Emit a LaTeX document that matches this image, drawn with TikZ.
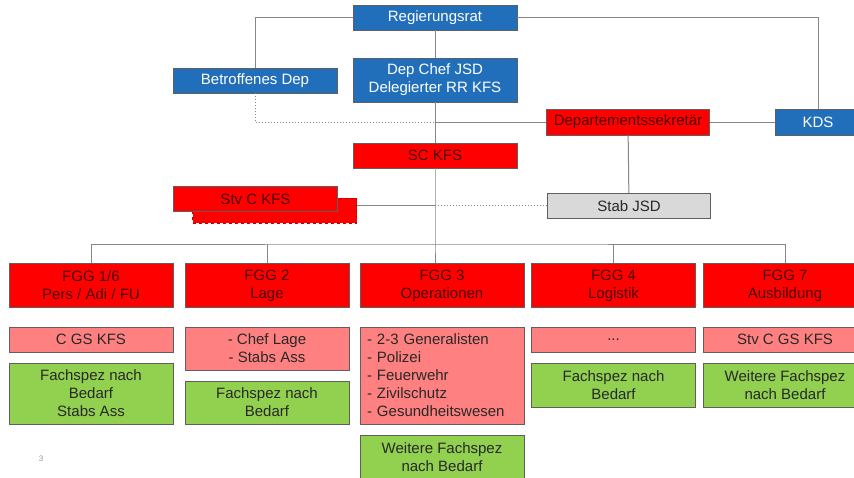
\documentclass[tikz,border=0pt]{standalone}
\usepackage{fontspec}
\setmainfont{Liberation Sans}

\definecolor{rrblue}{RGB}{33,111,186}
\definecolor{kfsred}{RGB}{255,0,0}
\definecolor{kfspink}{RGB}{255,128,128}
\definecolor{kfsgreen}{RGB}{146,208,80}
\definecolor{stabgray}{RGB}{217,217,217}
\definecolor{linegray}{RGB}{135,135,135}
\definecolor{boxline}{RGB}{95,95,95}
\definecolor{redtext}{RGB}{75,0,0}
\definecolor{darktext}{RGB}{40,40,40}

\tikzset{
  orgbox/.style={draw=boxline, line width=0.7pt, inner sep=0pt, minimum width=164,
    minimum height=25, align=center, font=\fontsize{15}{18}\selectfont},
  bluebox/.style={orgbox, fill=rrblue, text=white},
  redbox/.style={orgbox, fill=kfsred, text=redtext},
  pinkbox/.style={orgbox, fill=kfspink, text=darktext},
  greenbox/.style={orgbox, fill=kfsgreen, text=darktext},
  graybox/.style={orgbox, fill=stabgray, text=darktext},
  link/.style={draw=linegray, line width=1pt},
  hint/.style={link, dotted}
}

\begin{document}
\begin{tikzpicture}[x=1pt,y=-1pt]
    \useasboundingbox (0,0) rectangle (854,477);
    \clip (0,0) rectangle (854,477);
    \fill[white] (0,0) rectangle (854,477);

    % top level
    \node[bluebox] (reg) at (435,17.5) {Regierungsrat};
    \node[bluebox] (betr) at (255,80.5) {Betroffenes Dep};
    \node[bluebox,minimum height=44] (chef) at (435,80) {Dep Chef JSD\\Delegierter RR KFS};
    \node[redbox,minimum width=163,minimum height=26] (depsek) at (628,122) {Departementssekret\"ar};
    \node[bluebox,minimum width=86,minimum height=26] (kds) at (818,122) {KDS};
    \node[redbox] (sc) at (435,155.5) {SC KFS};
    \node[redbox,dashed,draw=kfsred!75!black] (stvshadow) at (274.5,210.5) {};
    \node[redbox] (stv) at (255.5,199) {Stv C KFS};
    \node[graybox,minimum width=163] (stab) at (629,206) {Stab JSD};

    % FGG row
    \node[redbox,minimum height=44] (fgg1) at (91,285.5) {FGG 1/6\\Pers / Adi / FU};
    \node[redbox,minimum height=44] (fgg2) at (267,285.5) {FGG 2\\Lage};
    \node[redbox,minimum height=44] (fgg3) at (442,285.5) {FGG 3\\Operationen};
    \node[redbox,minimum height=44] (fgg4) at (613.5,285.5) {FGG 4\\Logistik};
    \node[redbox,minimum height=44] (fgg7) at (785,285.5) {FGG 7\\Ausbildung};

    \node[pinkbox] (pink1) at (91,339.5) {C GS KFS};
    \node[pinkbox,minimum height=43] (pink2) at (267,348.5) {- Chef Lage\\- Stabs Ass};
    \node[pinkbox,minimum height=97,text width=150,align=left] (pink3) at (442,375.5)
      {- 2-3 Generalisten\\- Polizei\\- Feuerwehr\\- Zivilschutz\\- Gesundheitswesen};
    \node[pinkbox] (pink4) at (613.5,339.5) {...};
    \node[pinkbox] (pink7) at (785,339.5) {Stv C GS KFS};

    \node[greenbox,minimum height=61] (green1) at (91,393.5) {Fachspez nach\\Bedarf\\Stabs Ass};
    \node[greenbox,minimum height=43] (green2) at (267,402.5) {Fachspez nach\\Bedarf};
    \node[greenbox,minimum height=45] (green3) at (442,457.5) {Weitere Fachspez\\nach Bedarf};
    \node[greenbox,minimum height=44] (green4) at (613.5,385) {Fachspez nach\\Bedarf};
    \node[greenbox,minimum height=44] (green7) at (785,385) {Weitere Fachspez\\nach Bedarf};

    \node[text=black!40,font=\fontsize{8}{9}\selectfont] (pagenum) at (41,459) {3};

    % connectors
    \coordinate (sekjoin) at (435,122);
    \coordinate (stabjoin) at (435,205);
    \coordinate (bus) at (435,244);

    \draw[link] (reg.west) -| (betr.north);
    \draw[link] (reg.east) -| (kds.north);
    \draw[link] (reg) -- (chef);
    \draw[link] (chef) -- (sc);
    \draw[link] (sc.south) -- (bus) -- (bus |- fgg3.north);
    \draw[hint] (betr.south) |- (sekjoin);
    \draw[link] (sekjoin) -- (depsek.west);
    \draw[link] (depsek) -- (kds);
    \draw[link] (depsek) -- (stab);
    \draw[hint] (stab.west |- stabjoin) -- (stabjoin);
    \draw[link] (stabjoin) -- (stabjoin -| stvshadow.east);
    \draw[link] (fgg1.north) |- (bus) -| (fgg7.north);
    \draw[link] (fgg2.north) -- (fgg2.north |- bus);
    \draw[link] (fgg4.north) -- (fgg4.north |- bus);
\end{tikzpicture}
\end{document}
